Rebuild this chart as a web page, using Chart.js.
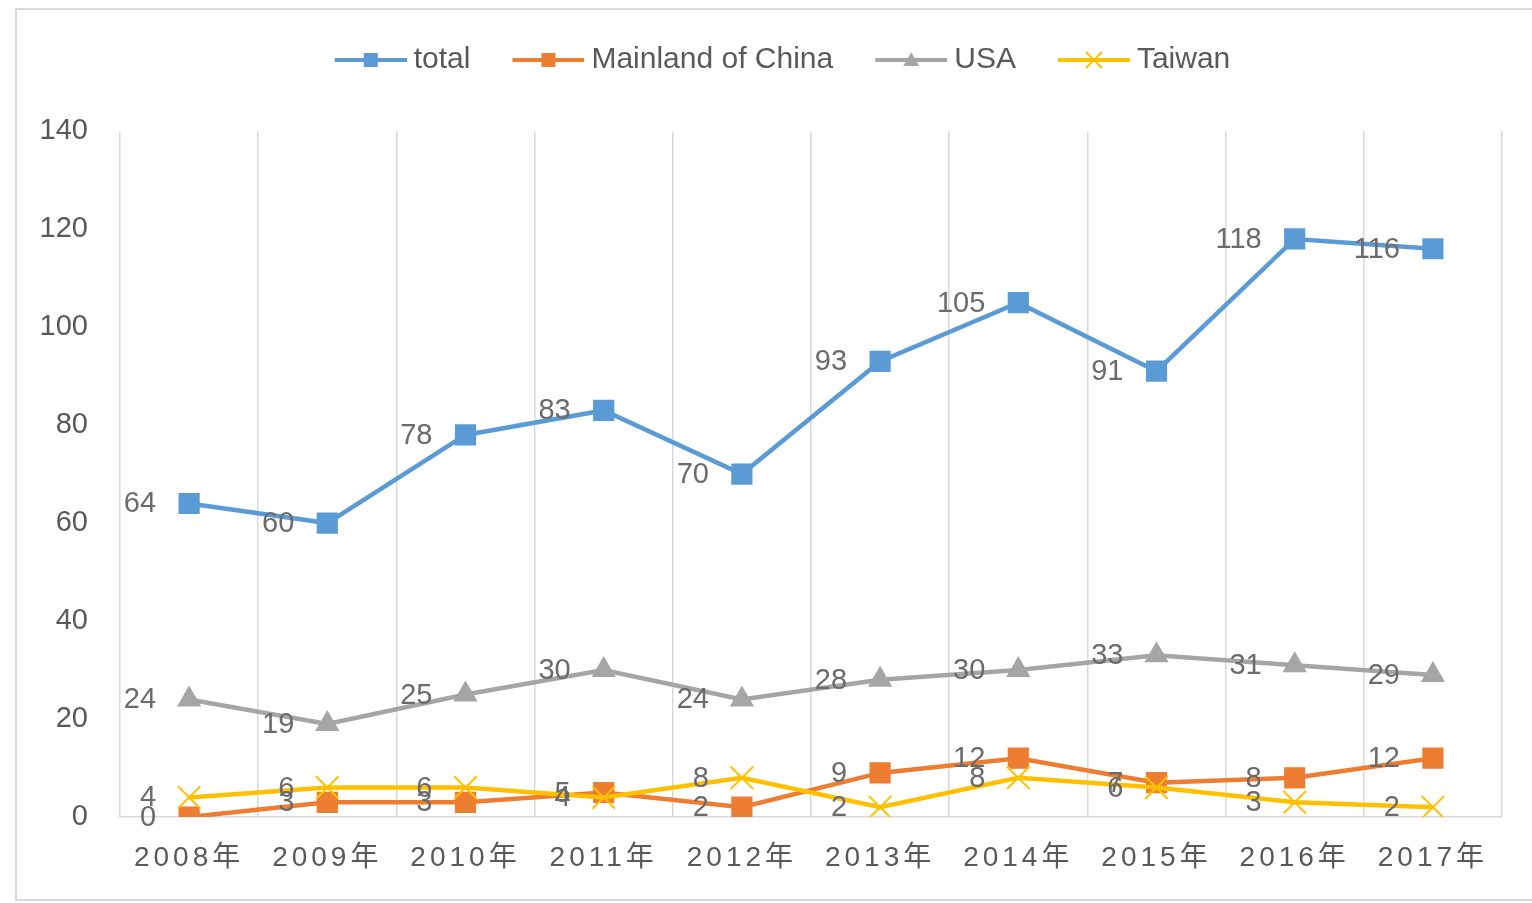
<!DOCTYPE html>
<html>
<head>
<meta charset="utf-8">
<script src="https://cdn.jsdelivr.net/npm/chart.js@4.4.1/dist/chart.umd.min.js"></script>
<style>
  html, body { margin: 0; padding: 0; background: #ffffff; }
  #wrap { width: 1532px; height: 903px; position: relative; }
</style>
</head>
<body>
<div id="wrap"><canvas id="c" width="1532" height="903"></canvas></div>
<script>
const categories = ['2008年','2009年','2010年','2011年','2012年','2013年','2014年','2015年','2016年','2017年'];
const totalValues = [64, 60, 78, 83, 70, 93, 105, 91, 118, 116];
const mainlandValues = [0, 3, 3, 5, 2, 9, 12, 7, 8, 12];
const usaValues = [24, 19, 25, 30, 24, 28, 30, 33, 31, 29];
const taiwanValues = [4, 6, 6, 4, 8, 2, 8, 6, 3, 2];
const seriesNames = ['total', 'Mainland of China', 'USA', 'Taiwan'];
const yTicks = [0, 20, 40, 60, 80, 100, 120, 140];

const colors = ['#5b9bd5', '#ed7d31', '#a5a5a5', '#ffc000'];
const styles = ['rect', 'rect', 'triangle', 'crossRot'];
const FONT = '"Liberation Sans", Arial, sans-serif';
const TEXT = '#595959';
const LBL = '#6b6b6b';

// legend symbol images (line + marker)
const BOXW = 96;
function legendImage(color, style) {
  const w = BOXW + 16, h = 24;
  const cv = document.createElement('canvas');
  cv.width = w; cv.height = h;
  const g = cv.getContext('2d');
  const x0 = BOXW - 64 + 8, x1 = w, cy = h / 2, cx = (x0 + x1) / 2;
  g.strokeStyle = color; g.lineWidth = 4;
  g.beginPath(); g.moveTo(x0, cy); g.lineTo(x1, cy); g.stroke();
  g.fillStyle = color;
  if (style === 'rect') {
    g.fillRect(cx - 7, cy - 7, 14, 14);
  } else if (style === 'triangle') {
    g.beginPath(); g.moveTo(cx, cy - 8); g.lineTo(cx + 8, cy + 6); g.lineTo(cx - 8, cy + 6); g.closePath(); g.fill();
  } else {
    g.lineWidth = 2;
    g.beginPath(); g.moveTo(cx - 8, cy - 8); g.lineTo(cx + 8, cy + 8);
    g.moveTo(cx + 8, cy - 8); g.lineTo(cx - 8, cy + 8); g.stroke();
  }
  return cv;
}
const legendImgs = colors.map((c, i) => legendImage(c, styles[i]));

const valuesList = [totalValues, mainlandValues, usaValues, taiwanValues];
const radii = [15, 15, 14, 16];
const datasets = valuesList.map((vals, i) => ({
  label: seriesNames[i],
  data: vals,
  borderColor: colors[i],
  backgroundColor: colors[i],
  borderWidth: 4.5,
  pointStyle: styles[i],
  pointRadius: radii[i],
  pointHoverRadius: radii[i],
  pointBorderWidth: styles[i] === 'crossRot' ? 2 : 0,
  pointBackgroundColor: colors[i],
  pointBorderColor: colors[i],
  tension: 0,
  fill: false,
  order: 4 - i
}));

const frame = {
  id: 'frame',
  beforeDraw(chart) {
    const ctx = chart.ctx;
    ctx.save();
    ctx.strokeStyle = '#d9d9d9';
    ctx.lineWidth = 2;
    ctx.beginPath();
    ctx.moveTo(1540, 9); ctx.lineTo(16, 9); ctx.lineTo(16, 900); ctx.lineTo(1540, 900);
    ctx.stroke();
    ctx.restore();
  }
};

const dataLabels = {
  id: 'dataLabels',
  afterDatasetsDraw(chart) {
    const ctx = chart.ctx;
    ctx.save();
    ctx.font = '29px ' + FONT;
    ctx.fillStyle = LBL;
    ctx.textAlign = 'right';
    ctx.textBaseline = 'middle';
    chart.data.datasets.forEach((ds, di) => {
      const meta = chart.getDatasetMeta(di);
      meta.data.forEach((pt, j) => {
        ctx.fillText(String(ds.data[j]), pt.x - 33, pt.y + 1);
      });
    });
    ctx.restore();
    // letter spacing for x axis labels (drawn after datasets, z=1)
    chart.ctx.letterSpacing = '4px';
  },
  afterDraw(chart) {
    chart.ctx.letterSpacing = '0px';
  }
};

new Chart(document.getElementById('c'), {
  type: 'line',
  data: { labels: categories, datasets: datasets },
  options: {
    responsive: false,
    animation: false,
    devicePixelRatio: 1,
    layout: { padding: { top: 35, right: 30, bottom: 0, left: 31 } },
    plugins: {
      tooltip: { enabled: false },
      title: { display: true, text: '', font: { size: 1 }, padding: { top: 45, bottom: 0 } },
      legend: {
        display: true,
        position: 'top',
        weight: 3000,
        labels: {
          usePointStyle: true,
          pointStyleWidth: BOXW,
          padding: 10,
          color: TEXT,
          font: { family: FONT, size: 30 },
          sort: (a, b) => a.datasetIndex - b.datasetIndex,
          generateLabels(chart) {
            const items = Chart.defaults.plugins.legend.labels.generateLabels(chart);
            items.forEach(it => { it.pointStyle = legendImgs[it.datasetIndex]; });
            return items;
          }
        }
      }
    },
    scales: {
      x: {
        type: 'category',
        offset: true,
        grid: { display: true, offset: true, color: '#d9d9d9', lineWidth: 1.5, drawTicks: false },
        border: { display: true, color: '#d9d9d9', width: 1.5 },
        ticks: { color: TEXT, font: { family: '"Liberation Sans", "Noto Sans CJK SC", sans-serif', size: 28 }, padding: 24, maxRotation: 0, autoSkip: false, z: 1 },
        afterFit(scale) { scale.height = 86; }
      },
      y: {
        min: 0,
        max: 140,
        afterBuildTicks(scale) { scale.ticks = yTicks.map(v => ({ value: v })); },
        grid: { display: false, drawTicks: false },
        border: { display: false },
        ticks: { color: TEXT, font: { family: FONT, size: 29 }, padding: 32 },
        afterFit(scale) { scale.width = 89; }
      }
    }
  },
  plugins: [frame, dataLabels]
});
</script>
</body>
</html>
